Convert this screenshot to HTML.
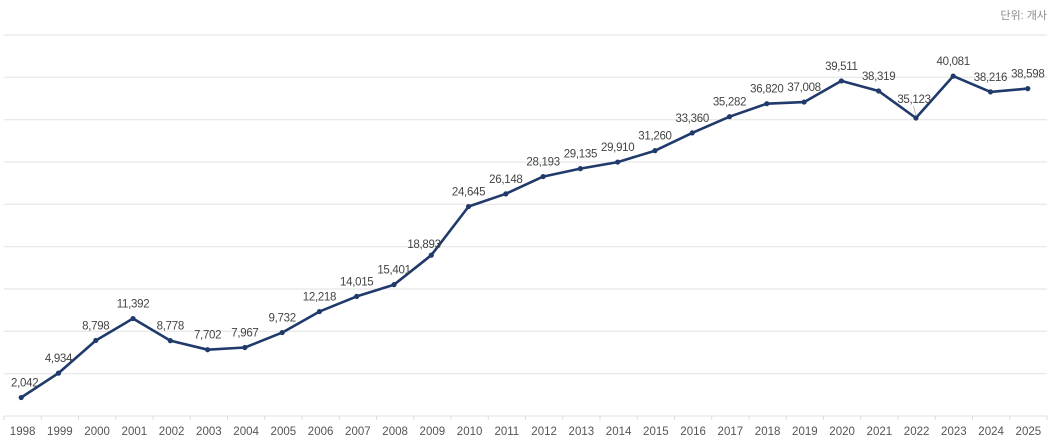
<!DOCTYPE html>
<html><head><meta charset="utf-8"><style>
html,body{margin:0;padding:0;background:#fff;}
svg{display:block;}
text{font-family:"Liberation Sans","Noto Sans CJK KR",sans-serif;}
</style></head><body>
<svg width="1055" height="445" viewBox="0 0 1055 445" xmlns="http://www.w3.org/2000/svg">
<text x="1047" y="19" font-size="11" fill="#8a8a8a" text-anchor="end">단위: 개사</text>
<g stroke="#e2e2e2" stroke-width="1">
<line x1="4" y1="35" x2="1047" y2="35"/>
<line x1="4" y1="77.3" x2="1047" y2="77.3"/>
<line x1="4" y1="119.7" x2="1047" y2="119.7"/>
<line x1="4" y1="162" x2="1047" y2="162"/>
<line x1="4" y1="204.3" x2="1047" y2="204.3"/>
<line x1="4" y1="246.7" x2="1047" y2="246.7"/>
<line x1="4" y1="289" x2="1047" y2="289"/>
<line x1="4" y1="331.3" x2="1047" y2="331.3"/>
<line x1="4" y1="373.7" x2="1047" y2="373.7"/>
<line x1="4" y1="416" x2="1047" y2="416"/>
</g>
<g stroke="#dcdcdc" stroke-width="1" id="ticks"></g>
<g font-size="11.5" fill="#555" text-anchor="middle" id="years"></g>
<polyline id="line" fill="none" stroke="#1f3a6b" stroke-width="2.6" stroke-linejoin="round" stroke-linecap="round" points=""/>
<g id="marks" fill="#1f3a6b"></g>
<line x1="913.5" y1="106" x2="916" y2="116" stroke="#aaa" stroke-width="0.8"/>
<g font-size="11.5" fill="#444" text-anchor="middle" letter-spacing="-0.3" id="labels"></g>
</svg>
<script>
var vals=[2042,4934,8798,11392,8778,7702,7967,9732,12218,14015,15401,18893,24645,26148,28193,29135,29910,31260,33360,35282,36820,37008,39511,38319,35123,40081,38216,38598];
var ns="http://www.w3.org/2000/svg";
var pts=[],ticks=document.getElementById('ticks'),years=document.getElementById('years'),marks=document.getElementById('marks'),labels=document.getElementById('labels');
for(var j=0;j<=28;j++){var tx=4+37.25*j;var l=document.createElementNS(ns,'line');l.setAttribute('x1',tx);l.setAttribute('x2',tx);l.setAttribute('y1',416);l.setAttribute('y2',420);ticks.appendChild(l);}
for(var k=0;k<vals.length;k++){
var x=21.2+37.28*k, y=414.8-vals[k]*0.00845;
pts.push(x.toFixed(1)+','+y.toFixed(1));
var c=document.createElementNS(ns,'circle');c.setAttribute('cx',x);c.setAttribute('cy',y);c.setAttribute('r',2.6);marks.appendChild(c);
var t=document.createElementNS(ns,'text');
var lx=x, ly=y-11;
if(k==0){lx=24.7;}
if(k==11){lx=424;ly=248;}
if(k==24){lx=914;ly=103;}
t.setAttribute('x',lx);t.setAttribute('y',ly);
t.textContent=vals[k].toLocaleString('en-US');labels.appendChild(t);
var yt=document.createElementNS(ns,'text');yt.setAttribute('x',22.6+37.25*k);yt.setAttribute('y',435);yt.textContent=String(1998+k);years.appendChild(yt);
}
document.getElementById('line').setAttribute('points',pts.join(' '));
</script>
</body></html>
